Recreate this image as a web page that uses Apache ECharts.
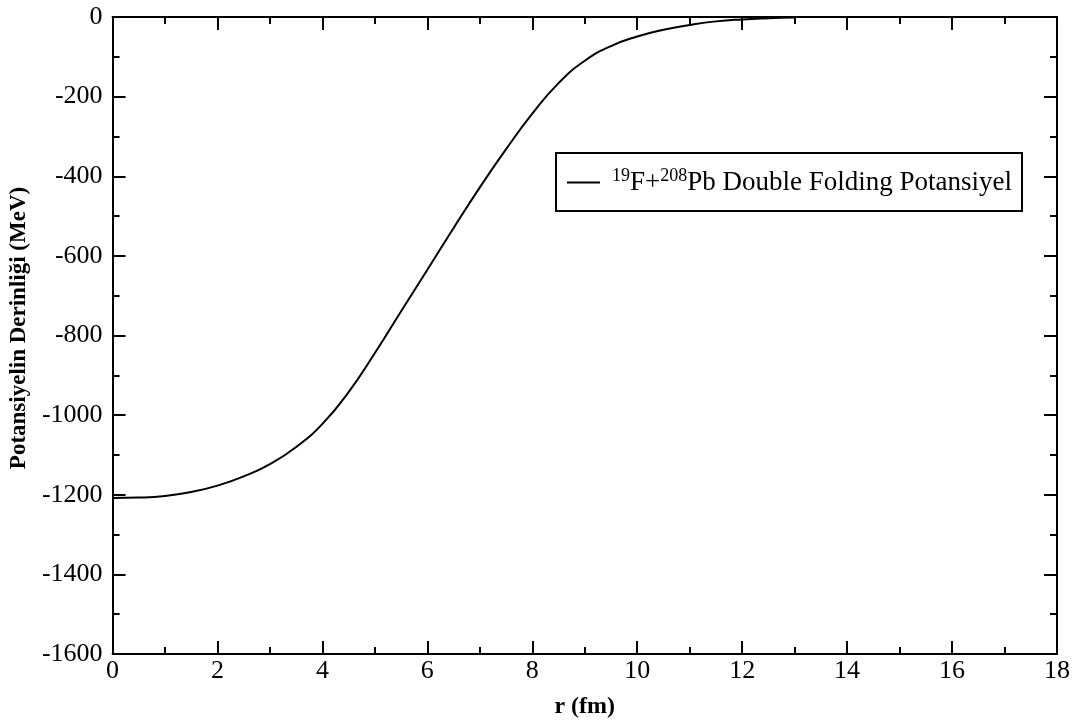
<!DOCTYPE html>
<html><head><meta charset="utf-8">
<script src="https://cdn.jsdelivr.net/npm/echarts@6/dist/echarts.min.js"></script>
<style>html,body{margin:0;padding:0;background:#fff}#c{width:1081px;height:724px}</style>
</head><body><div id="c"></div>
<script>
const rValues = [0, 0.5, 1, 1.5, 2, 2.5, 3, 3.5, 4, 4.5, 5, 5.5, 6, 6.5, 7, 7.5, 8, 8.5, 9, 9.5, 10, 10.5, 11, 11.5, 12, 12.5, 13];
const potential = [-1208, -1207, -1203, -1193, -1177, -1154, -1123, -1080, -1022, -942, -844, -739, -635, -530, -428, -332, -243, -166, -110, -73, -49, -32, -20, -11, -6, -3, -1];
const xTicks = [0, 2, 4, 6, 8, 10, 12, 14, 16, 18];
const yTicks = [0, -200, -400, -600, -800, -1000, -1200, -1400, -1600];
const seriesName = '19F+208Pb Double Folding Potansiyel';

const font = 'Liberation Serif';
const chart = echarts.init(document.getElementById('c'));
const axisLine = {show: true, onZero: false, lineStyle: {color: '#000', width: 2}};
const majorTick = {show: true, inside: true, length: 13, lineStyle: {color: '#000', width: 2}};
const minorTick = {show: true, splitNumber: 2, length: 7, lineStyle: {color: '#000', width: 2}};
const labelStyle = {color: '#000', fontFamily: font, fontSize: 26};
chart.setOption({
  animation: false,
  backgroundColor: '#fff',
  grid: {left: 112, right: 24, top: 17, bottom: 67, containLabel: false},
  legend: {
    data: [seriesName],
    left: 556, top: 153,
    padding: [14, 10, 15, 11],
    borderColor: '#000', borderWidth: 2,
    icon: 'rect',
    itemWidth: 33, itemHeight: 2, itemGap: 0,
    formatter: () => '{sup|19}{n|F+}{sup2|208}{n|Pb Double Folding Potansiyel}',
    textStyle: {
      color: '#000', fontFamily: font, fontSize: 27,
      rich: {
        sup: {fontFamily: font, fontSize: 18, color: '#000', padding: [0, 0, 13, 7]},
        sup2: {fontFamily: font, fontSize: 18, color: '#000', padding: [0, 0, 13, 0]},
        n: {fontFamily: font, fontSize: 27, color: '#000'}
      }
    }
  },
  xAxis: [{
    type: 'value', min: 0, max: 18, interval: 2,
    name: 'r (fm)', nameLocation: 'middle', nameGap: 41,
    nameTextStyle: {color: '#000', fontFamily: font, fontSize: 24, fontWeight: 'bold'},
    axisLine, axisTick: majorTick, minorTick: Object.assign({}, minorTick),
    axisLabel: Object.assign({margin: 4, formatter: v => xTicks.includes(v) ? String(v) : ''}, labelStyle),
    splitLine: {show: false}
  }, {
    type: 'value', min: 0, max: 18, interval: 2, position: 'top',
    axisLine, axisTick: majorTick, minorTick: Object.assign({}, minorTick),
    axisLabel: {show: false}, splitLine: {show: false}
  }],
  yAxis: [{
    type: 'value', min: -1600, max: 0, interval: 200,
    name: 'Potansiyelin Derinliği (MeV)', nameLocation: 'middle', nameGap: 78,
    nameTextStyle: {color: '#000', fontFamily: font, fontSize: 23, fontWeight: 'bold', padding: [0, 0, 0, 15]},
    axisLine, axisTick: majorTick, minorTick: Object.assign({}, minorTick),
    axisLabel: Object.assign({margin: 10, formatter: v => yTicks.includes(v) ? String(v) : ''}, labelStyle),
    splitLine: {show: false}
  }, {
    type: 'value', min: -1600, max: 0, interval: 200, position: 'right',
    axisLine, axisTick: majorTick, minorTick: Object.assign({}, minorTick),
    axisLabel: {show: false}, splitLine: {show: false}
  }],
  series: [{
    name: seriesName, type: 'line', smooth: true, symbol: 'none',
    xAxisIndex: 0, yAxisIndex: 0,
    lineStyle: {color: '#000', width: 2},
    itemStyle: {color: '#000'},
    data: rValues.map((r, i) => [r, potential[i]])
  }]
});
</script></body></html>
